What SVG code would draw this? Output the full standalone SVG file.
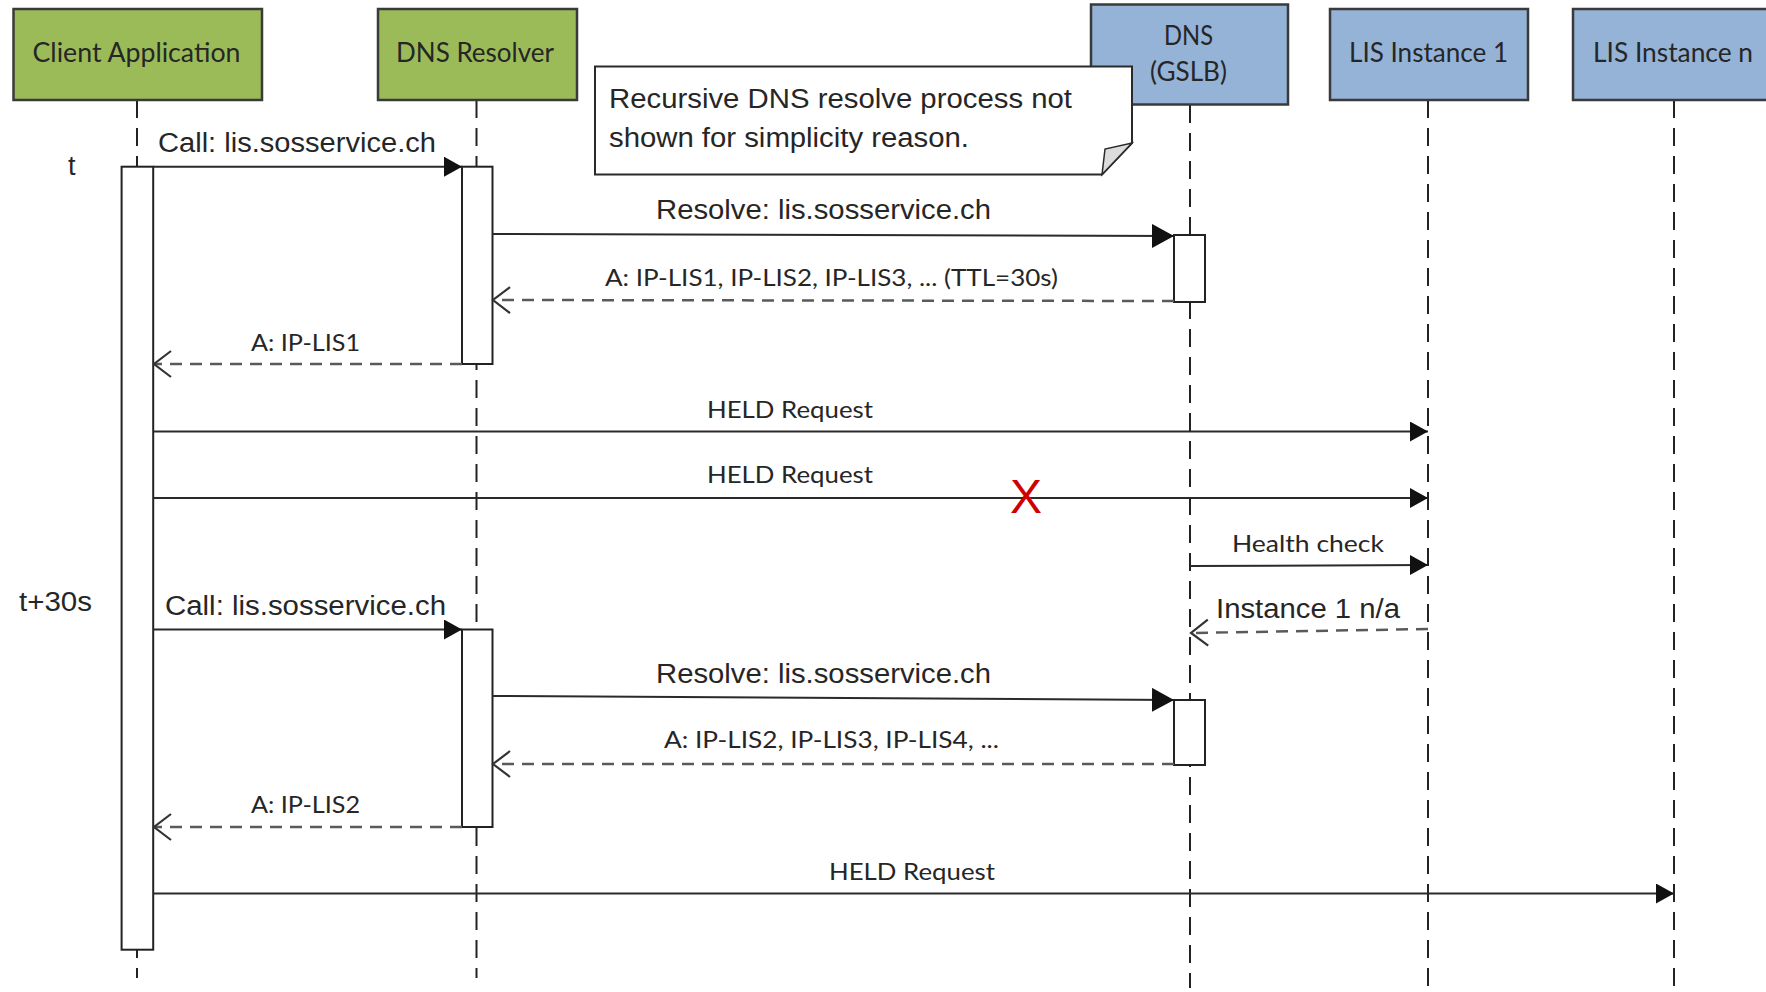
<svg xmlns="http://www.w3.org/2000/svg" width="1766" height="992" viewBox="0 0 1766 992">
<style>
.bg{fill:#ffffff}
.green{fill:#9BBB59;stroke:#3a3a3a;stroke-width:2.5}
.blue{fill:#95B3D7;stroke:#3a3a3a;stroke-width:2.5}
.life{stroke:#222;stroke-width:2;stroke-dasharray:18 10;fill:none}
.bar{fill:#fff;stroke:#222;stroke-width:2}
.msg{stroke:#2a2a2a;stroke-width:2;fill:none}
.ret{stroke:#5a5a5a;stroke-width:2.5;stroke-dasharray:12 8;fill:none}
.cal{font-family:Lato,"Open Sans",sans-serif;fill:#262626}
.ari{font-family:"Liberation Sans",Arial,sans-serif;fill:#262626;font-size:27px}
.box{font-size:26px}
.lbl{font-size:24px}
.note{fill:#fff;stroke:#2a2a2a;stroke-width:2}
.fold{fill:#dcdcdc;stroke:#2a2a2a;stroke-width:1.5}
</style>
<defs>
<marker id="fa" markerUnits="userSpaceOnUse" markerWidth="20" markerHeight="22" refX="18" refY="10" orient="auto"><path d="M0,0 L18,10 L0,20 z" fill="#111"/></marker>
<marker id="fb" markerUnits="userSpaceOnUse" markerWidth="24" markerHeight="26" refX="22" refY="12" orient="auto"><path d="M0,0 L22,12 L0,24 z" fill="#111"/></marker>
<marker id="oa" markerUnits="userSpaceOnUse" markerWidth="22" markerHeight="30" refX="18" refY="14" orient="auto"><path d="M1,1 L18,14 L1,27" fill="none" stroke="#333" stroke-width="2.2"/></marker>
</defs>
<rect class="bg" x="0" y="0" width="1766" height="992"/>

<g id="lifelines">
<line class="life" x1="137" y1="100" x2="137" y2="978"/>
<line class="life" x1="476.5" y1="100" x2="476.5" y2="978"/>
<line class="life" x1="1190" y1="105" x2="1190" y2="988"/>
<line class="life" x1="1428" y1="100" x2="1428" y2="992"/>
<line class="life" x1="1674" y1="100" x2="1674" y2="992"/>
</g>

<g id="client">
<rect class="green" x="13.5" y="9" width="248.5" height="91"/>
<text class="cal box" x="32.5" y="62" textLength="208" lengthAdjust="spacingAndGlyphs">Client Application</text>
</g>
<g id="resolver">
<rect class="green" x="378" y="9" width="199" height="91"/>
<text class="cal box" x="396" y="62" textLength="158" lengthAdjust="spacingAndGlyphs">DNS Resolver</text>
</g>
<g id="dns">
<rect class="blue" x="1091" y="4.5" width="197" height="100"/>
<text class="cal box" x="1164" y="45" textLength="49" lengthAdjust="spacingAndGlyphs">DNS</text>
<text class="cal box" x="1150" y="81" textLength="77" lengthAdjust="spacingAndGlyphs">(GSLB)</text>
</g>
<g id="lis1">
<rect class="blue" x="1330" y="9" width="198" height="91"/>
<text class="cal box" x="1349" y="62" textLength="159" lengthAdjust="spacingAndGlyphs">LIS Instance 1</text>
</g>
<g id="lisn">
<rect class="blue" x="1573" y="9" width="200" height="91"/>
<text class="cal box" x="1593" y="62" textLength="160" lengthAdjust="spacingAndGlyphs">LIS Instance n</text>
</g>

<g id="activations">
<rect class="bar" x="121.6" y="166.7" width="31.6" height="783"/>
<rect class="bar" x="462" y="166.7" width="30.5" height="197.3"/>
<rect class="bar" x="462" y="629.5" width="30.5" height="197.5"/>
<rect class="bar" x="1174" y="235" width="31" height="67"/>
<rect class="bar" x="1174" y="700" width="31" height="65"/>
</g>

<g id="connectors">
<line class="msg" x1="153.2" y1="166.7" x2="462" y2="166.7" marker-end="url(#fa)"/>
<line class="msg" x1="492.5" y1="234" x2="1174" y2="236" marker-end="url(#fb)"/>
<line class="ret" x1="1174" y1="301" x2="493" y2="300" marker-end="url(#oa)"/>
<line class="ret" x1="462" y1="364" x2="154" y2="364" marker-end="url(#oa)"/>
<line class="msg" x1="153.2" y1="431.5" x2="1428" y2="431.5" marker-end="url(#fa)"/>
<line class="msg" x1="153.2" y1="498" x2="1428" y2="498" marker-end="url(#fa)"/>
<line class="msg" x1="1190" y1="566" x2="1428" y2="565" marker-end="url(#fa)"/>
<line class="ret" x1="1428" y1="629" x2="1191" y2="633" marker-end="url(#oa)"/>
<line class="msg" x1="153.2" y1="629.5" x2="462" y2="629.5" marker-end="url(#fa)"/>
<line class="msg" x1="492.5" y1="696" x2="1174" y2="700" marker-end="url(#fb)"/>
<line class="ret" x1="1174" y1="764" x2="493" y2="764" marker-end="url(#oa)"/>
<line class="ret" x1="462" y1="827" x2="154" y2="827" marker-end="url(#oa)"/>
<line class="msg" x1="153.2" y1="893.5" x2="1674" y2="893.5" marker-end="url(#fa)"/>
</g>

<g id="labels">
<text class="ari" x="158" y="152" textLength="278" lengthAdjust="spacingAndGlyphs">Call: lis.sosservice.ch</text>
<text class="ari" x="656" y="219" textLength="335" lengthAdjust="spacingAndGlyphs">Resolve: lis.sosservice.ch</text>
<text class="cal lbl" x="605" y="286" textLength="453" lengthAdjust="spacingAndGlyphs">A: IP-LIS1, IP-LIS2, IP-LIS3, ... (TTL=30s)</text>
<text class="cal lbl" x="251" y="351" textLength="109" lengthAdjust="spacingAndGlyphs">A: IP-LIS1</text>
<text class="cal lbl" x="707" y="418" textLength="166" lengthAdjust="spacingAndGlyphs">HELD Request</text>
<text class="cal lbl" x="707" y="483" textLength="166" lengthAdjust="spacingAndGlyphs">HELD Request</text>
<text class="cal lbl" x="1232" y="552" textLength="152" lengthAdjust="spacingAndGlyphs">Health check</text>
<text class="ari" x="1216" y="618" textLength="184" lengthAdjust="spacingAndGlyphs">Instance 1 n/a</text>
<text class="ari" x="165" y="615" textLength="281" lengthAdjust="spacingAndGlyphs">Call: lis.sosservice.ch</text>
<text class="ari" x="656" y="683" textLength="335" lengthAdjust="spacingAndGlyphs">Resolve: lis.sosservice.ch</text>
<text class="cal lbl" x="664" y="748" textLength="335" lengthAdjust="spacingAndGlyphs">A: IP-LIS2, IP-LIS3, IP-LIS4, ...</text>
<text class="cal lbl" x="251" y="813" textLength="109" lengthAdjust="spacingAndGlyphs">A: IP-LIS2</text>
<text class="cal lbl" x="829" y="880" textLength="166" lengthAdjust="spacingAndGlyphs">HELD Request</text>
<text class="ari" x="68" y="175">t</text>
<text class="ari" x="19" y="611" textLength="73" lengthAdjust="spacingAndGlyphs">t+30s</text>
<text x="1026" y="513" text-anchor="middle" font-family="Liberation Sans, Arial, sans-serif" font-size="48" fill="#D00000">X</text>
</g>

<g id="note">
<path class="note" d="M595,66.5 L1132,66.5 L1132,143 L1102,174.6 L595,174.6 Z"/>
<path class="fold" d="M1132,143 L1102,174.6 L1105,149 Z"/>
<text class="ari" x="609" y="108" textLength="463" lengthAdjust="spacingAndGlyphs">Recursive DNS resolve process not</text>
<text class="ari" x="609" y="147" textLength="360" lengthAdjust="spacingAndGlyphs">shown for simplicity reason.</text>
</g>
</svg>
